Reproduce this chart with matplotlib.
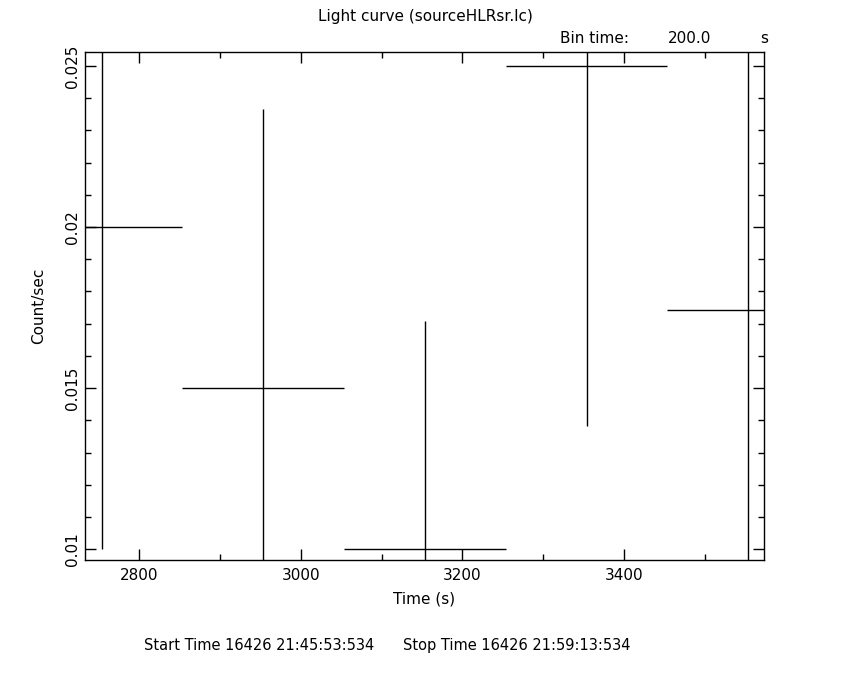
import numpy as np
import matplotlib
matplotlib.use('Agg')
import matplotlib.pyplot as plt
from matplotlib.ticker import MultipleLocator

# light curve bins (200 s), centre time, rate and 1-sigma error
time = [2753.5, 2953.5, 3153.5, 3353.5, 3553.5]
rate = [0.0200, 0.0150, 0.0100, 0.0250, 0.01743]
rate_err = [0.0100, 0.00866, 0.00707, 0.01118, 0.0174]
bin_half = 100.0

plt.rcParams['font.family'] = 'DejaVu Sans'
plt.rcParams['font.size'] = 11

fig = plt.figure(figsize=(8.5, 6.8), dpi=100)
ax = fig.add_axes([0.1, 0.1765, 0.7988, 0.7475])

ax.errorbar(time, rate, xerr=bin_half, yerr=rate_err, fmt='none',
            ecolor='black', elinewidth=1, capsize=0)

ax.set_xlim(2733, 3573)
ax.set_ylim(0.00967, 0.02544)

ax.xaxis.set_major_locator(MultipleLocator(200))
ax.xaxis.set_minor_locator(MultipleLocator(100))
ax.yaxis.set_major_locator(MultipleLocator(0.005))
ax.yaxis.set_minor_locator(MultipleLocator(0.001))
ax.tick_params(which='both', direction='in', top=True, right=True, color='black', width=1)
ax.tick_params(which='major', length=8, labelsize=11)
ax.tick_params(axis='x', which='major', pad=6)
ax.tick_params(which='minor', length=4)
ax.set_yticks([0.01, 0.015, 0.02, 0.025])
ax.set_yticklabels(['0.01', '0.015', '0.02', '0.025'], rotation=90, va='center')
for s in ax.spines.values():
    s.set_linewidth(1)

ax.set_xlabel('Time (s)', labelpad=6)
ax.set_ylabel('Count/sec', labelpad=14)

fig.text(0.5, 0.976, 'Light curve (sourceHLRsr.lc)', ha='center', va='center', fontsize=11)
fig.text(0.659, 0.944, 'Bin time:', ha='left', va='center', fontsize=11)
fig.text(0.786, 0.944, '200.0', ha='left', va='center', fontsize=11)
fig.text(0.894, 0.944, 's', ha='left', va='center', fontsize=11)
fig.text(0.170, 0.051, 'Start Time 16426 21:45:53:534', ha='left', va='center', fontsize=10.5)
fig.text(0.474, 0.051, 'Stop Time 16426 21:59:13:534', ha='left', va='center', fontsize=10.5)

fig.savefig('out.png', dpi=100)
